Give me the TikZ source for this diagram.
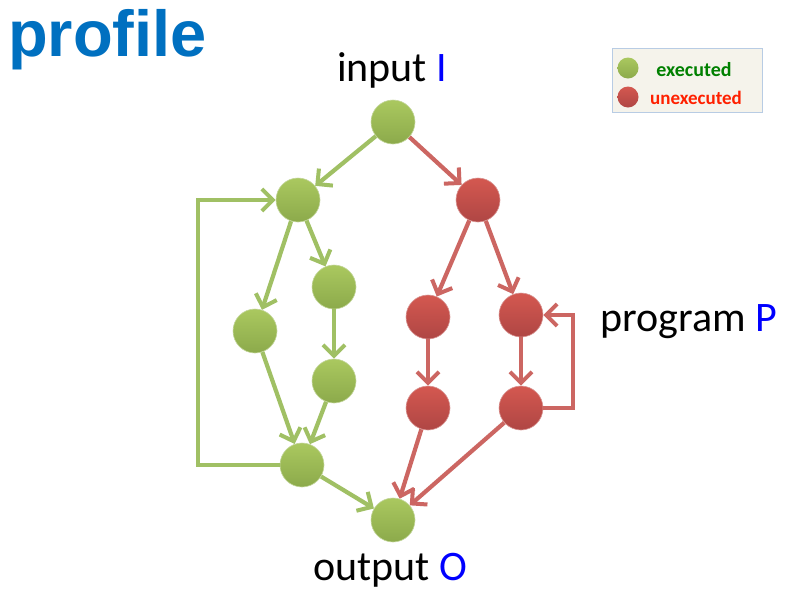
\documentclass[tikz,border=0pt]{standalone}
\usepackage{fontspec}
\setmainfont{Carlito}
\newfontfamily\titlefont{Liberation Sans}
\usetikzlibrary{arrows.meta}
\definecolor{gnode}{RGB}{155,187,89}
\definecolor{gnodetop}{RGB}{170,200,95}
\definecolor{gnodebot}{RGB}{140,170,75}
\definecolor{rnode}{RGB}{192,80,77}
\definecolor{rnodetop}{RGB}{212,88,80}
\definecolor{rnodebot}{RGB}{175,70,68}
\definecolor{garrow}{RGB}{160,192,100}
\definecolor{rarrow}{RGB}{204,102,98}
\definecolor{titleblue}{RGB}{0,112,192}
\definecolor{lblue}{RGB}{0,0,255}
\definecolor{legfill}{RGB}{245,243,235}
\definecolor{legdraw}{RGB}{184,204,228}
\definecolor{exgreen}{RGB}{0,128,0}
\definecolor{unred}{RGB}{255,32,0}
\tikzset{
  gn/.style={circle,minimum size=44pt,inner sep=0pt,top color=gnodetop,bottom color=gnodebot,draw=gnode!60,line width=0.6pt},
  rn/.style={circle,minimum size=44pt,inner sep=0pt,top color=rnodetop,bottom color=rnodebot,draw=rnode!60,line width=0.6pt},
  ga/.style={draw=garrow,line width=4.2pt,-{Straight Barb[length=11pt,width=22pt,line width=4pt]}},
  ra/.style={draw=rarrow,line width=4.2pt,-{Straight Barb[length=11pt,width=22pt,line width=4pt]}},
  lbl/.style={font=\fontsize{42}{48}\selectfont,inner sep=0pt}
}
\begin{document}
\begin{tikzpicture}[x=1pt,y=-1pt]
\useasboundingbox[fill=white] (0,0) rectangle (795,595);
\node[anchor=west,inner sep=0pt,text=titleblue,font=\titlefont\bfseries\fontsize{65}{72}\selectfont] (title) at (8,40) {profile};
% legend
\node[draw=legdraw,fill=legfill,line width=1pt,minimum width=150pt,minimum height=64pt,inner sep=0pt] (legend) at (687,80) {};
\node[circle,minimum size=21pt,inner sep=0pt,top color=gnodetop,bottom color=gnodebot] (lg) at (628,68) {};
\node[circle,minimum size=21pt,inner sep=0pt,top color=rnodetop,bottom color=rnodebot] (lr) at (628,97) {};
\node[text=exgreen,font=\bfseries\fontsize{20}{22}\selectfont,inner sep=0pt] (lgt) at (694,70) {executed};
\node[text=unred,font=\bfseries\fontsize{19}{22}\selectfont,inner sep=0pt] (lrt) at (696,98) {unexecuted};
% nodes
\node[gn] (in) at (393,122) {};
\node[gn] (a) at (298,200) {};
\node[rn] (r1) at (478,200) {};
\node[gn] (g2) at (255,331) {};
\node[gn] (g3) at (334,287) {};
\node[gn] (g4) at (334,381) {};
\node[gn] (g5) at (302,465) {};
\node[gn] (out) at (393,520) {};
\node[rn] (r2) at (428,317) {};
\node[rn] (r3) at (521,315) {};
\node[rn] (r4) at (428,408) {};
\node[rn] (r5) at (521,408) {};
% labels
\node[lbl] (tin) at (392,70) {input \textcolor{lblue}{I}};
\node[lbl] (tout) at (390,570) {output \textcolor{lblue}{O}};
\node[lbl] (tprog) at (689,322) {program \textcolor{lblue}{P}};
% edges
\draw[ga] (in) -- (a);
\draw[ra] (in) -- (r1);
\draw[ga] (a) -- (g2);
\draw[ga] (a) -- (g3);
\draw[ga] (g3) -- (g4);
\draw[ga] (g2) -- (g5);
\draw[ga] (g4) -- (g5);
\draw[ga] (g5) -- (out);
\draw[ra] (r1) -- (r2);
\draw[ra] (r1) -- (r3);
\draw[ra] (r2) -- (r4);
\draw[ra] (r3) -- (r5);
\draw[ra] (r4) -- (out);
\draw[ra] (r5) -- (out);
\coordinate (gl1) at (198,465);
\coordinate (gl2) at (198,200);
\draw[ga] (g5.west) -- (gl1) -- (gl2) -- (a.west);
\coordinate (rl1) at (573,408);
\coordinate (rl2) at (573,315);
\draw[ra] (r5.east) -- (rl1) -- (rl2) -- (r3.east);
\end{tikzpicture}
\end{document}
